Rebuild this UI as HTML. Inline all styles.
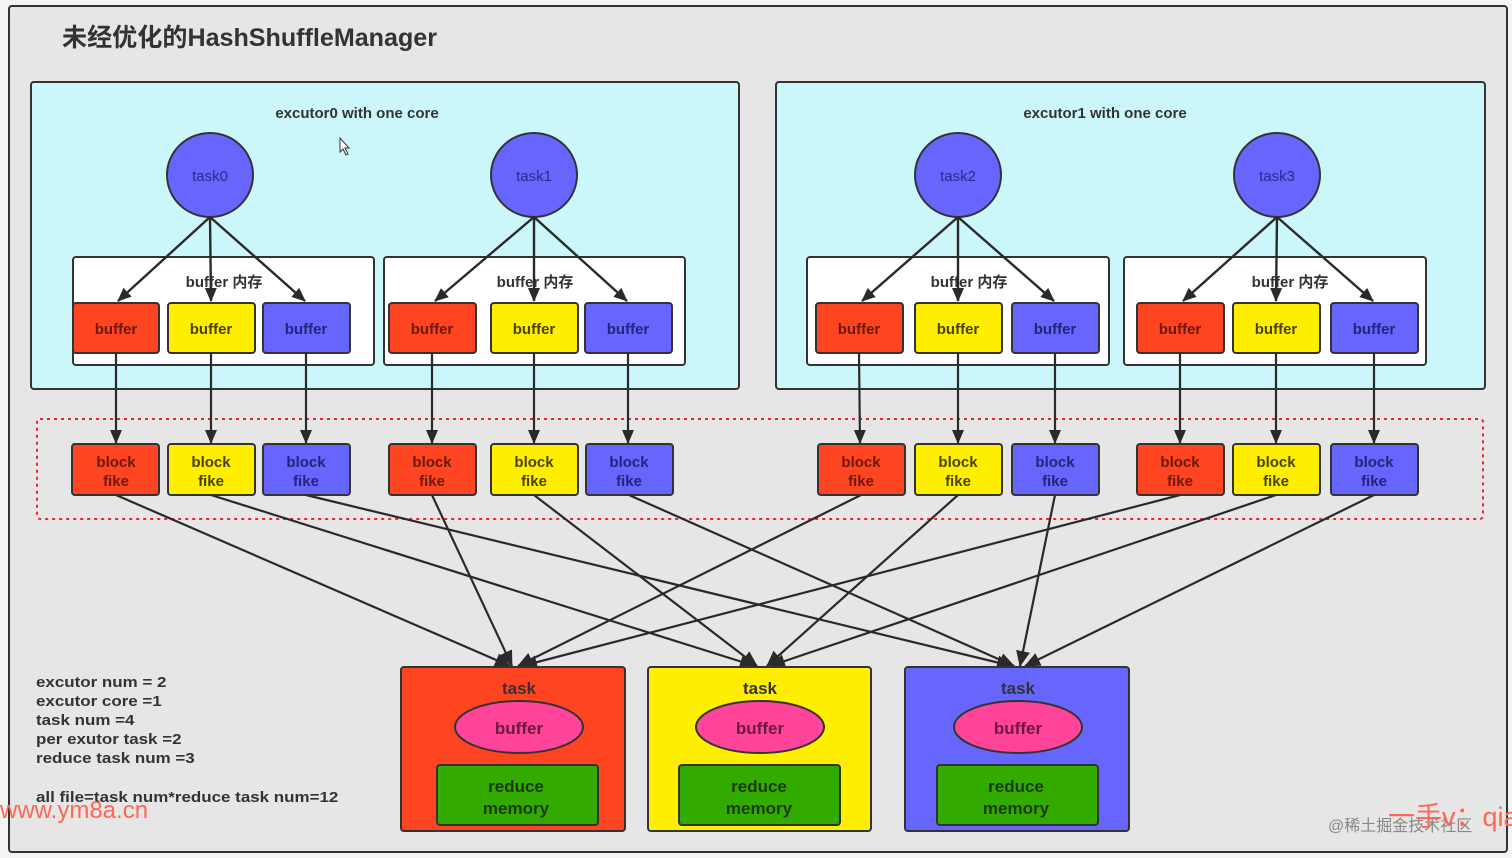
<!DOCTYPE html>
<html><head><meta charset="utf-8"><style>
html,body{margin:0;padding:0;background:#f4f4f4;}
svg{display:block;}
text{font-family:"Liberation Sans","Noto Sans CJK SC",sans-serif;}
.b{font-weight:bold;font-size:15px;text-anchor:middle;}
</style></head><body>
<svg width="1512" height="858" viewBox="0 0 1512 858" xmlns="http://www.w3.org/2000/svg">
<defs>
<marker id="a" markerWidth="14" markerHeight="14" refX="13" refY="7" orient="auto" markerUnits="userSpaceOnUse"><path d="M0,1 L14,7 L0,13 Z" fill="#2a2a2a"/></marker>
<marker id="a2" markerWidth="16" markerHeight="16" refX="15" refY="8" orient="auto" markerUnits="userSpaceOnUse"><path d="M0,1 L16,8 L0,15 Z" fill="#2a2a2a"/></marker>
</defs>
<rect x="0" y="0" width="1512" height="858" fill="#f4f4f4"/>
<rect x="9" y="6" width="1498" height="846" rx="3" fill="#e6e6e6" stroke="#333" stroke-width="2"/>
<text x="62" y="46" font-size="25" font-weight="bold" fill="#333" textLength="375" lengthAdjust="spacingAndGlyphs">未经优化的HashShuffleManager</text>

<rect x="31" y="82" width="708" height="307" rx="3" fill="#cbf7fb" stroke="#333" stroke-width="2"/>
<rect x="776" y="82" width="709" height="307" rx="3" fill="#cbf7fb" stroke="#333" stroke-width="2"/>
<text x="357" y="118" class="b" fill="#333">excutor0 with one core</text>
<text x="1105" y="118" class="b" fill="#333">excutor1 with one core</text>

<g fill="#fff" stroke="#333" stroke-width="2">
<rect x="73" y="257" width="301" height="108" rx="3"/>
<rect x="384" y="257" width="301" height="108" rx="3"/>
<rect x="807" y="257" width="302" height="108" rx="3"/>
<rect x="1124" y="257" width="302" height="108" rx="3"/>
</g>
<g class="b" fill="#333" font-size="14">
<text x="224" y="287" class="b">buffer 内存</text>
<text x="535" y="287" class="b">buffer 内存</text>
<text x="969" y="287" class="b">buffer 内存</text>
<text x="1290" y="287" class="b">buffer 内存</text>
</g>

<g fill="#6666ff" stroke="#333" stroke-width="2">
<ellipse cx="210" cy="175" rx="43" ry="42"/>
<ellipse cx="534" cy="175" rx="43" ry="42"/>
<ellipse cx="958" cy="175" rx="43" ry="42"/>
<ellipse cx="1277" cy="175" rx="43" ry="42"/>
</g>
<g fill="#2a2a8a" font-size="15" text-anchor="middle">
<text x="210" y="181">task0</text><text x="534" y="181">task1</text><text x="958" y="181">task2</text><text x="1277" y="181">task3</text>
</g>

<g stroke="#2a2a2a" stroke-width="2.4" marker-end="url(#a)">
<line x1="210" y1="217" x2="118" y2="301"/><line x1="210" y1="217" x2="211" y2="301"/><line x1="210" y1="217" x2="305" y2="301"/>
<line x1="534" y1="217" x2="435" y2="301"/><line x1="534" y1="217" x2="534" y2="301"/><line x1="534" y1="217" x2="627" y2="301"/>
<line x1="958" y1="217" x2="862" y2="301"/><line x1="958" y1="217" x2="958" y2="301"/><line x1="958" y1="217" x2="1054" y2="301"/>
<line x1="1277" y1="217" x2="1183" y2="301"/><line x1="1277" y1="217" x2="1276" y2="301"/><line x1="1277" y1="217" x2="1373" y2="301"/>
</g>

<g stroke="#333" stroke-width="2">
<rect x="73" y="303" width="86" height="50" rx="3" fill="#ff4422"/>
<rect x="168" y="303" width="87" height="50" rx="3" fill="#ffee00"/>
<rect x="263" y="303" width="87" height="50" rx="3" fill="#6666ff"/>
<rect x="389" y="303" width="87" height="50" rx="3" fill="#ff4422"/>
<rect x="491" y="303" width="87" height="50" rx="3" fill="#ffee00"/>
<rect x="585" y="303" width="87" height="50" rx="3" fill="#6666ff"/>
<rect x="816" y="303" width="87" height="50" rx="3" fill="#ff4422"/>
<rect x="915" y="303" width="87" height="50" rx="3" fill="#ffee00"/>
<rect x="1012" y="303" width="87" height="50" rx="3" fill="#6666ff"/>
<rect x="1137" y="303" width="87" height="50" rx="3" fill="#ff4422"/>
<rect x="1233" y="303" width="87" height="50" rx="3" fill="#ffee00"/>
<rect x="1331" y="303" width="87" height="50" rx="3" fill="#6666ff"/>
</g>
<g class="b">
<text x="116" y="334" class="b" fill="#6a1a0a">buffer</text><text x="211" y="334" class="b" fill="#4a4200">buffer</text><text x="306" y="334" class="b" fill="#24247a">buffer</text>
<text x="432" y="334" class="b" fill="#6a1a0a">buffer</text><text x="534" y="334" class="b" fill="#4a4200">buffer</text><text x="628" y="334" class="b" fill="#24247a">buffer</text>
<text x="859" y="334" class="b" fill="#6a1a0a">buffer</text><text x="958" y="334" class="b" fill="#4a4200">buffer</text><text x="1055" y="334" class="b" fill="#24247a">buffer</text>
<text x="1180" y="334" class="b" fill="#6a1a0a">buffer</text><text x="1276" y="334" class="b" fill="#4a4200">buffer</text><text x="1374" y="334" class="b" fill="#24247a">buffer</text>
</g>

<rect x="37" y="419" width="1446" height="100" rx="3" fill="none" stroke="#ee2233" stroke-width="2" stroke-dasharray="3,4"/>

<g stroke="#2a2a2a" stroke-width="2.2" marker-end="url(#a)">
<line x1="116" y1="353" x2="116" y2="443"/><line x1="211" y1="353" x2="211" y2="443"/><line x1="306" y1="353" x2="306" y2="443"/>
<line x1="432" y1="353" x2="432" y2="443"/><line x1="534" y1="353" x2="534" y2="443"/><line x1="628" y1="353" x2="628" y2="443"/>
<line x1="859" y1="353" x2="860" y2="443"/><line x1="958" y1="353" x2="958" y2="443"/><line x1="1055" y1="353" x2="1055" y2="443"/>
<line x1="1180" y1="353" x2="1180" y2="443"/><line x1="1276" y1="353" x2="1276" y2="443"/><line x1="1374" y1="353" x2="1374" y2="443"/>
</g>

<g stroke="#333" stroke-width="2">
<rect x="72" y="444" width="87" height="51" rx="3" fill="#ff4422"/>
<rect x="168" y="444" width="87" height="51" rx="3" fill="#ffee00"/>
<rect x="263" y="444" width="87" height="51" rx="3" fill="#6666ff"/>
<rect x="389" y="444" width="87" height="51" rx="3" fill="#ff4422"/>
<rect x="491" y="444" width="87" height="51" rx="3" fill="#ffee00"/>
<rect x="586" y="444" width="87" height="51" rx="3" fill="#6666ff"/>
<rect x="818" y="444" width="87" height="51" rx="3" fill="#ff4422"/>
<rect x="915" y="444" width="87" height="51" rx="3" fill="#ffee00"/>
<rect x="1012" y="444" width="87" height="51" rx="3" fill="#6666ff"/>
<rect x="1137" y="444" width="87" height="51" rx="3" fill="#ff4422"/>
<rect x="1233" y="444" width="87" height="51" rx="3" fill="#ffee00"/>
<rect x="1331" y="444" width="87" height="51" rx="3" fill="#6666ff"/>
</g>
<g class="b">
<text x="116" y="467" class="b" fill="#6a1a0a">block</text><text x="116" y="486" class="b" fill="#6a1a0a">fike</text>
<text x="211" y="467" class="b" fill="#4a4200">block</text><text x="211" y="486" class="b" fill="#4a4200">fike</text>
<text x="306" y="467" class="b" fill="#24247a">block</text><text x="306" y="486" class="b" fill="#24247a">fike</text>
<text x="432" y="467" class="b" fill="#6a1a0a">block</text><text x="432" y="486" class="b" fill="#6a1a0a">fike</text>
<text x="534" y="467" class="b" fill="#4a4200">block</text><text x="534" y="486" class="b" fill="#4a4200">fike</text>
<text x="629" y="467" class="b" fill="#24247a">block</text><text x="629" y="486" class="b" fill="#24247a">fike</text>
<text x="861" y="467" class="b" fill="#6a1a0a">block</text><text x="861" y="486" class="b" fill="#6a1a0a">fike</text>
<text x="958" y="467" class="b" fill="#4a4200">block</text><text x="958" y="486" class="b" fill="#4a4200">fike</text>
<text x="1055" y="467" class="b" fill="#24247a">block</text><text x="1055" y="486" class="b" fill="#24247a">fike</text>
<text x="1180" y="467" class="b" fill="#6a1a0a">block</text><text x="1180" y="486" class="b" fill="#6a1a0a">fike</text>
<text x="1276" y="467" class="b" fill="#4a4200">block</text><text x="1276" y="486" class="b" fill="#4a4200">fike</text>
<text x="1374" y="467" class="b" fill="#24247a">block</text><text x="1374" y="486" class="b" fill="#24247a">fike</text>
</g>

<g stroke="#2a2a2a" stroke-width="2.2" marker-end="url(#a2)">
<line x1="116" y1="495" x2="510" y2="666"/><line x1="432" y1="495" x2="512" y2="666"/><line x1="861" y1="495" x2="518" y2="666"/><line x1="1180" y1="495" x2="522" y2="666"/>
<line x1="211" y1="495" x2="755" y2="666"/><line x1="534" y1="495" x2="757" y2="666"/><line x1="958" y1="495" x2="767" y2="666"/><line x1="1276" y1="495" x2="770" y2="666"/>
<line x1="306" y1="495" x2="1012" y2="666"/><line x1="629" y1="495" x2="1014" y2="666"/><line x1="1055" y1="495" x2="1020" y2="666"/><line x1="1374" y1="495" x2="1025" y2="666"/>
</g>

<g stroke="#333" stroke-width="2">
<rect x="401" y="667" width="224" height="164" rx="3" fill="#ff4422"/>
<rect x="648" y="667" width="223" height="164" rx="3" fill="#ffee00"/>
<rect x="905" y="667" width="224" height="164" rx="3" fill="#6666ff"/>
<ellipse cx="519" cy="727" rx="64" ry="26" fill="#ff4499"/>
<ellipse cx="760" cy="727" rx="64" ry="26" fill="#ff4499"/>
<ellipse cx="1018" cy="727" rx="64" ry="26" fill="#ff4499"/>
<rect x="437" y="765" width="161" height="60" rx="3" fill="#33aa00"/>
<rect x="679" y="765" width="161" height="60" rx="3" fill="#33aa00"/>
<rect x="937" y="765" width="161" height="60" rx="3" fill="#33aa00"/>
</g>
<g font-size="17" font-weight="bold" text-anchor="middle" fill="#333">
<text x="519" y="694">task</text><text x="760" y="694">task</text><text x="1018" y="694">task</text>
<text x="519" y="734" fill="#6a1a40">buffer</text><text x="760" y="734" fill="#6a1a40">buffer</text><text x="1018" y="734" fill="#6a1a40">buffer</text>
<text x="516" y="792" fill="#1a3a00">reduce</text><text x="516" y="814" fill="#1a3a00">memory</text>
<text x="759" y="792" fill="#1a3a00">reduce</text><text x="759" y="814" fill="#1a3a00">memory</text>
<text x="1016" y="792" fill="#1a3a00">reduce</text><text x="1016" y="814" fill="#1a3a00">memory</text>
</g>

<g font-size="15" font-weight="bold" fill="#333" transform="translate(36,0) scale(1.13,1) translate(-36,0)">
<text x="36" y="687">excutor num = 2</text>
<text x="36" y="706">excutor core =1</text>
<text x="36" y="725">task num =4</text>
<text x="36" y="744">per exutor task =2</text>
<text x="36" y="763">reduce task num =3</text>
<text x="36" y="802">all file=task num*reduce task num=12</text>
</g>
<text x="0" y="818" font-size="24" fill="#ff6655">www.ym8a.cn</text>
<text x="1328" y="831" font-size="16" fill="#888">@稀土掘金技术社区</text>
<text x="1388" y="826" font-size="27" fill="#ff6655">一手v：qia</text>
<path d="M340,138 L340,152 L343,149 L346,155 L348,154 L345,148 L349,148 Z" fill="#fff" stroke="#333" stroke-width="1"/>
</svg>
</body></html>
